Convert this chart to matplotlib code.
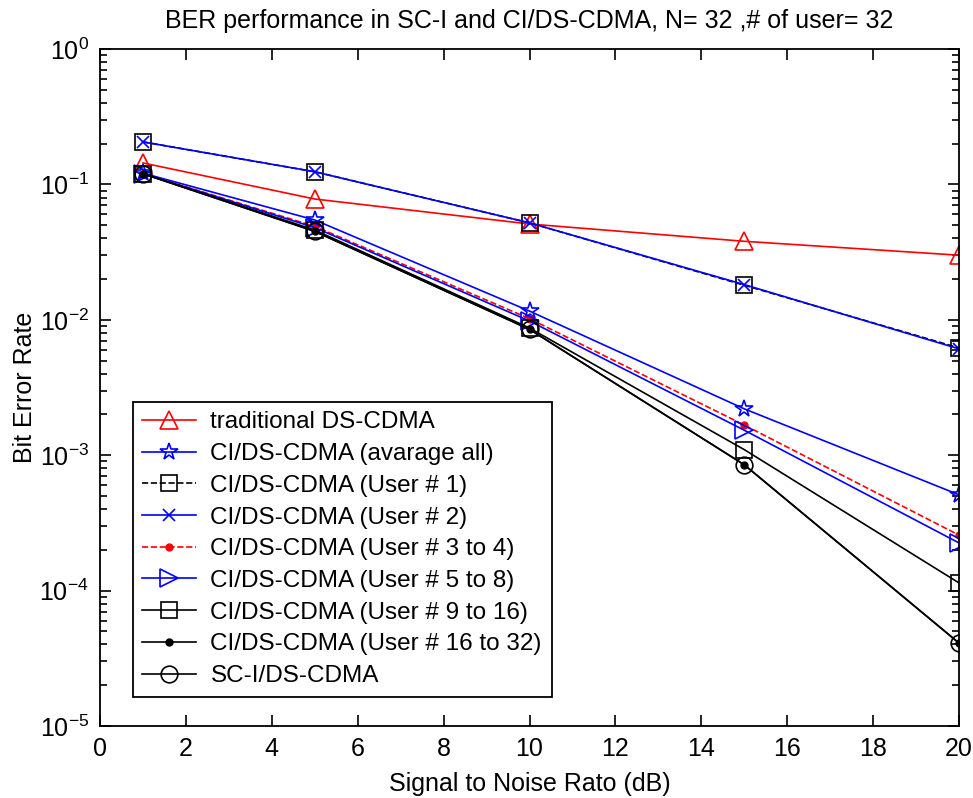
import matplotlib
matplotlib.use("Agg")
import matplotlib.pyplot as plt
from matplotlib.ticker import LogLocator, NullFormatter, MultipleLocator

plt.rcParams['font.family'] = ['Liberation Sans', 'DejaVu Sans']
plt.rcParams['mathtext.fontset'] = 'custom'
plt.rcParams['mathtext.rm'] = 'Liberation Sans'

# SNR points (dB)
snr = [1, 5, 10, 15, 20]

# BER curves
ber_traditional = [0.144, 0.078, 0.051, 0.038, 0.030]
ber_avg_all = [0.121, 0.0546, 0.0116, 0.0022, 5.1e-4]
ber_user1 = [0.206, 0.124, 0.052, 0.018, 0.0062]
ber_user2 = [0.206, 0.124, 0.052, 0.0182, 0.0061]
ber_user3_4 = [0.12, 0.049, 0.0102, 0.00167, 2.57e-4]
ber_user5_8 = [0.12, 0.048, 0.0098, 0.00153, 2.25e-4]
ber_user9_16 = [0.12, 0.046, 0.0087, 0.0011, 1.14e-4]
ber_user16_32 = [0.12, 0.045, 0.0085, 8.5e-4, 4.1e-5]
ber_sci = [0.12, 0.045, 0.0085, 8.5e-4, 4.1e-5]

labels = [
    'traditional DS-CDMA',
    'CI/DS-CDMA (avarage all)',
    'CI/DS-CDMA (User # 1)',
    'CI/DS-CDMA (User # 2)',
    'CI/DS-CDMA (User # 3 to 4)',
    'CI/DS-CDMA (User # 5 to 8)',
    'CI/DS-CDMA (User # 9 to 16)',
    'CI/DS-CDMA (User # 16 to 32)',
    'SC-I/DS-CDMA',
]

fig = plt.figure(figsize=(9.73, 7.98), dpi=100)
ax = fig.add_axes([0.1028, 0.0902, 0.8828, 0.8484])

lw = 1.2
ax.semilogy(snr, ber_traditional, color='red', ls='-', marker='^', lw=lw, ms=13, mfc='none', mew=1.2, label=labels[0])
ax.semilogy(snr, ber_avg_all, color='blue', ls='-', marker='*', lw=lw, ms=13, mfc='none', mew=1.2, label=labels[1])
ax.semilogy(snr, ber_user1, color='black', ls='--', marker='s', lw=lw, ms=12, mfc='none', mew=1.2, label=labels[2])
ax.semilogy(snr, ber_user2, color='blue', ls='-', marker='x', lw=lw, ms=8, mew=1.2, label=labels[3])
ax.semilogy(snr, ber_user3_4, color='red', ls='--', marker='.', lw=lw, ms=10, label=labels[4])
ax.semilogy(snr, ber_user5_8, color='blue', ls='-', marker='>', lw=lw, ms=13, mfc='none', mew=1.2, label=labels[5])
ax.semilogy(snr, ber_user9_16, color='black', ls='-', marker='s', lw=lw, ms=12, mfc='none', mew=1.2, label=labels[6])
ax.semilogy(snr, ber_user16_32, color='black', ls='-', marker='.', lw=lw, ms=10, label=labels[7])
ax.semilogy(snr, ber_sci, color='black', ls='-', marker='o', lw=lw, ms=12, mfc='none', mew=1.2, label=labels[8])

ax.set_xlim(0, 20)
ax.set_ylim(1e-5, 1)
ax.xaxis.set_major_locator(MultipleLocator(2))
ax.yaxis.set_major_locator(LogLocator(base=10, numticks=10))
ax.yaxis.set_minor_locator(LogLocator(base=10, subs=range(2, 10), numticks=10))
ax.yaxis.set_minor_formatter(NullFormatter())

ax.tick_params(which='both', direction='in', top=True, right=True, labelsize=18, width=1.2)
ax.tick_params(which='major', length=8, pad=8)
ax.tick_params(which='minor', length=5)
for sp in ax.spines.values():
    sp.set_linewidth(1.3)

ax.set_title('BER performance in SC-I and CI/DS-CDMA, N= 32 ,# of user= 32', fontsize=18, pad=15)
ax.set_xlabel('Signal to Noise Rato (dB)', fontsize=18, labelpad=8)
ax.set_ylabel('Bit Error Rate', fontsize=18, labelpad=2)

leg = ax.legend(loc='lower left', bbox_to_anchor=(0.038, 0.043), fontsize=17.5, numpoints=1,
                handlelength=2.2, handletextpad=0.6, labelspacing=0.4, borderpad=0.4,
                borderaxespad=0, fancybox=False, framealpha=1, edgecolor='black')
leg.get_frame().set_linewidth(1.3)

fig.savefig('out.png', dpi=100)
